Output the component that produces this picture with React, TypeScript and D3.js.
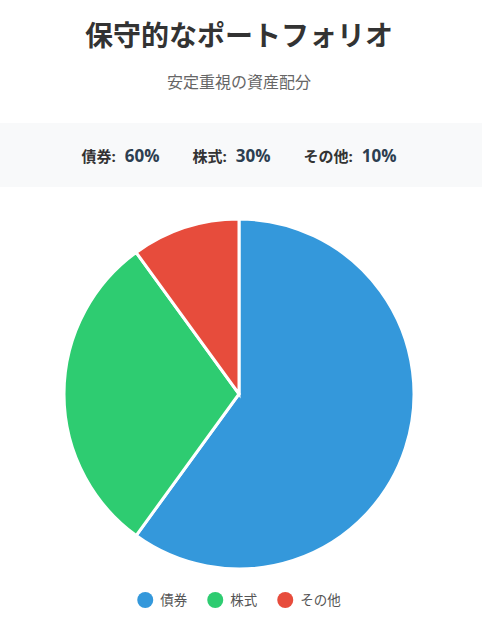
import React, { useEffect, useRef } from "react";
import * as d3 from "d3";

const categories = ["債券", "株式", "その他"];
const values = [60, 30, 10];
const colors = ["#3498db", "#2ecc71", "#e74c3c"];
const title = "保守的なポートフォリオ";
const subtitle = "安定重視の資産配分";

const W = 482;
const H = 623;
const FONT = "'Open Sans', 'Noto Sans CJK JP', sans-serif";

export default function App() {
  const ref = useRef<SVGSVGElement | null>(null);

  useEffect(() => {
    const svg = d3.select(ref.current);
    svg.selectAll("*").remove();
    const cx = 239;

    svg
      .append("text")
      .attr("x", cx)
      .attr("y", 46)
      .attr("text-anchor", "middle")
      .attr("font-size", 28)
      .attr("font-weight", 700)
      .attr("fill", "#333")
      .text(title);

    svg
      .append("text")
      .attr("x", cx)
      .attr("y", 88)
      .attr("text-anchor", "middle")
      .attr("font-size", 16)
      .attr("fill", "#666")
      .text(subtitle);

    // stats bar
    svg.append("rect").attr("x", 0).attr("y", 123).attr("width", W).attr("height", 64).attr("fill", "#f8f9fa");

    const total = d3.sum(values);
    const statsG = svg.append("g");
    const items = categories.map((c, i) => {
      const g = statsG.append("g");
      const t = g.append("text").attr("y", 162);
      t.append("tspan").attr("font-size", 15).attr("font-weight", 700).attr("fill", "#333").text(c + ":");
      t.append("tspan")
        .attr("dx", 9)
        .attr("font-size", 17)
        .attr("font-weight", 700)
        .attr("fill", "#2c3e50")
        .text(`${Math.round((values[i] / total) * 100)}%`);
      const w = (t.node() as SVGTextElement).getComputedTextLength() + 9;
      return { g, w };
    });
    const gap = 33;
    const totW = d3.sum(items, (d) => d.w) + gap * (items.length - 1);
    let x0 = cx - totW / 2;
    items.forEach((it) => {
      it.g.attr("transform", `translate(${x0},0)`);
      x0 += it.w + gap;
    });

    // pie
    const r = 175;
    const cy = 394;
    const pie = d3
      .pie<number>()
      .sort(null)
      .value((d) => d);
    const arc = d3.arc<d3.PieArcDatum<number>>().innerRadius(0).outerRadius(r);
    const color = d3.scaleOrdinal<string, string>().domain(categories).range(colors);
    svg
      .append("g")
      .attr("transform", `translate(${cx},${cy})`)
      .selectAll("path")
      .data(pie(values))
      .join("path")
      .attr("d", arc)
      .attr("fill", (_, i) => color(categories[i]))
      .attr("stroke", "#fff")
      .attr("stroke-width", 3);

    // legend
    const legG = svg.append("g");
    const legItems = categories.map((c, i) => {
      const g = legG.append("g");
      g.append("circle").attr("cx", 8).attr("cy", 600).attr("r", 8).attr("fill", color(c));
      const t = g
        .append("text")
        .attr("x", 23)
        .attr("y", 604.5)
        .attr("font-size", 13.5)
        .attr("fill", "#555")
        .text(c);
      const w = 23 + (t.node() as SVGTextElement).getComputedTextLength();
      return { g, w };
    });
    const lgap = 20;
    const lTot = d3.sum(legItems, (d) => d.w) + lgap * (legItems.length - 1);
    let lx = cx - lTot / 2;
    legItems.forEach((it) => {
      it.g.attr("transform", `translate(${lx},0)`);
      lx += it.w + lgap;
    });
  }, []);

  return (
    <svg
      ref={ref}
      width={W}
      height={H}
      style={{ position: "absolute", left: 0, top: 0, fontFamily: FONT, background: "#fff" }}
    />
  );
}
